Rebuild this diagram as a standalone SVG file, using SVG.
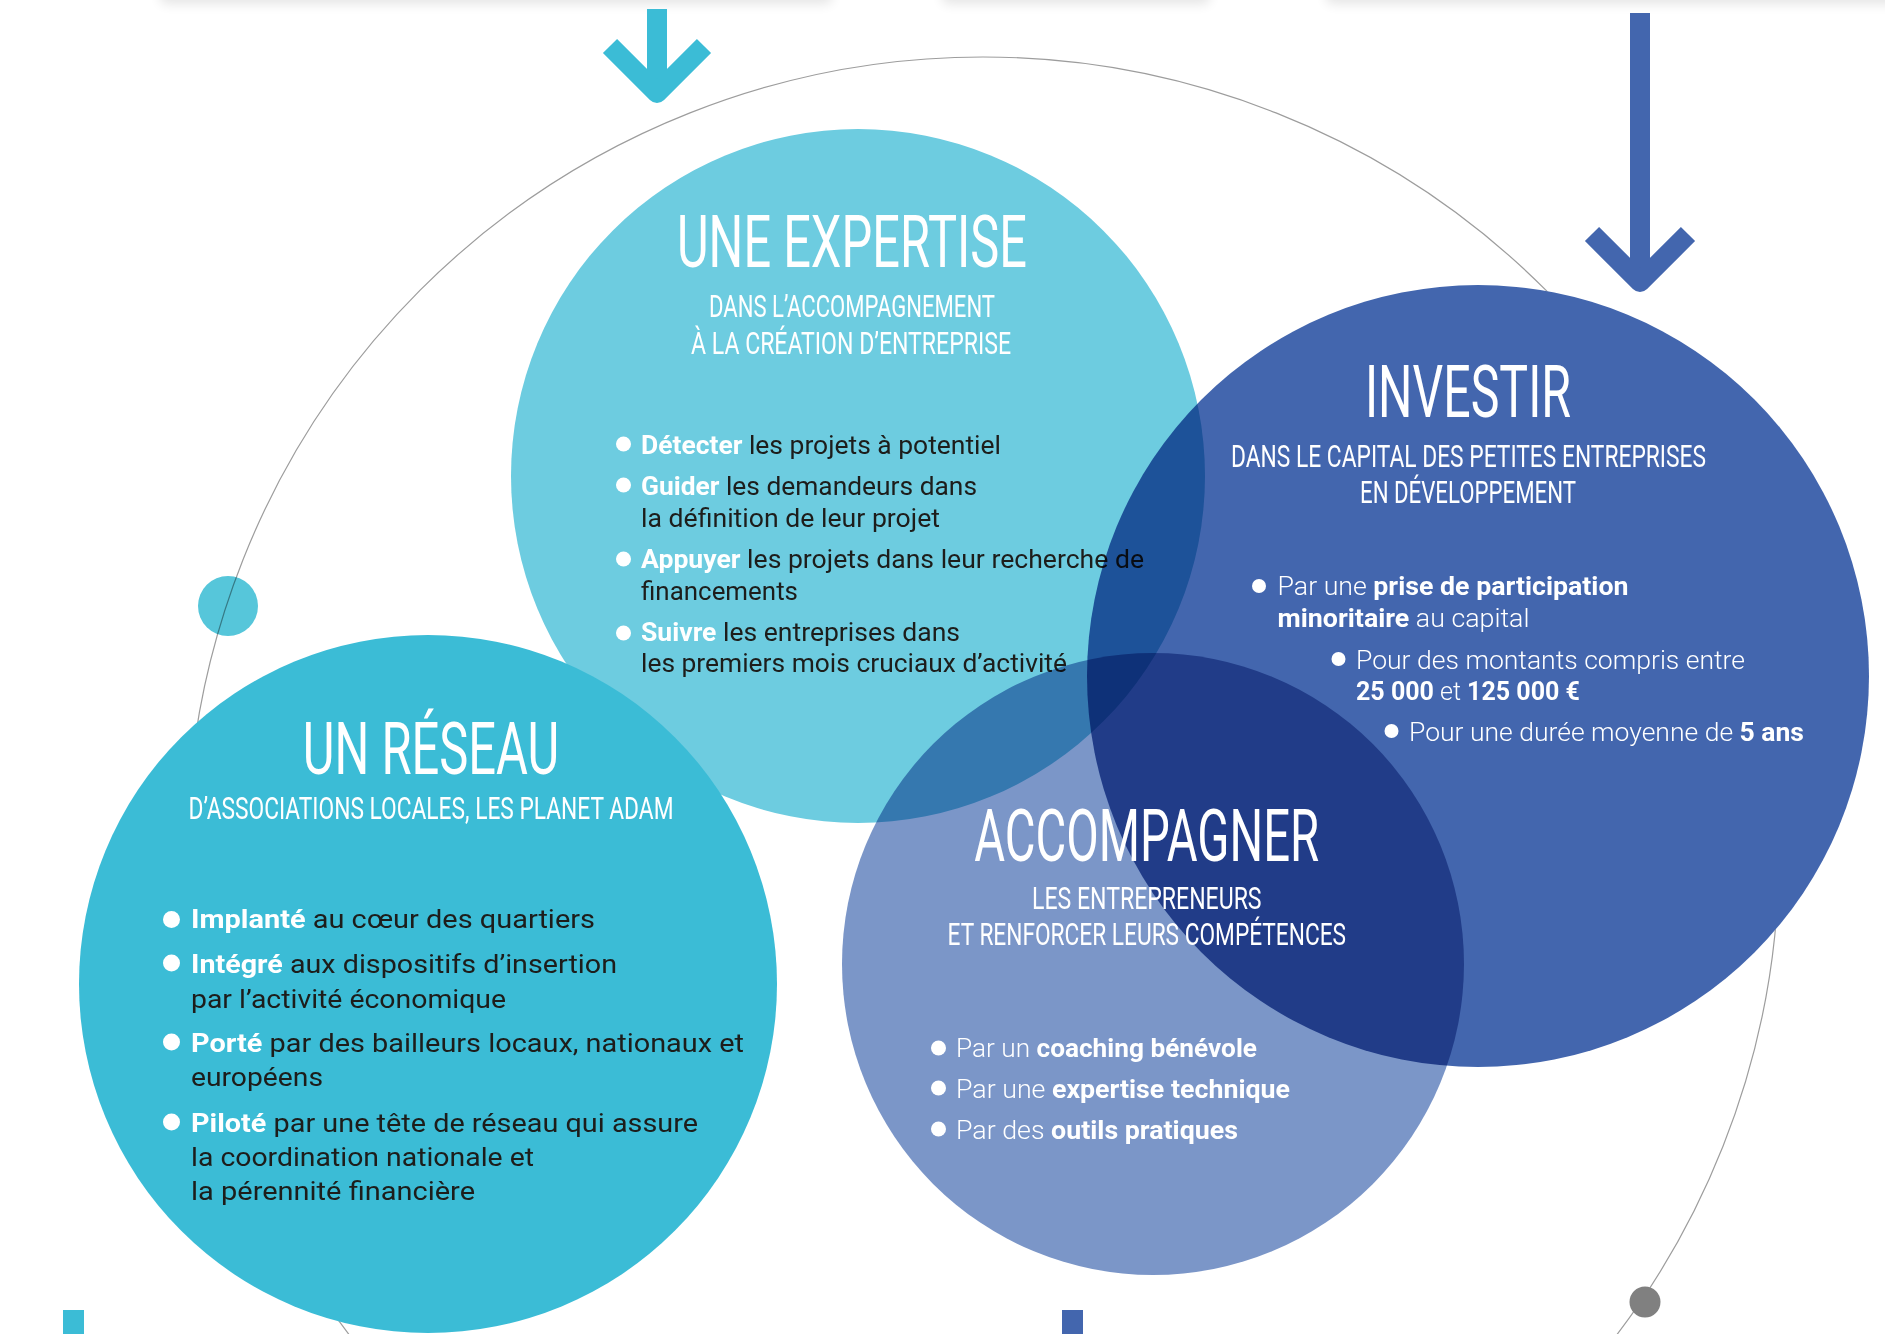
<svg xmlns="http://www.w3.org/2000/svg" width="1885" height="1334" viewBox="0 0 1885 1334">
<defs>
<filter id="shadow" x="-10%" y="-200%" width="120%" height="500%"><feGaussianBlur stdDeviation="6"/></filter>
</defs>
<style>
text{font-family:Roboto,"Liberation Sans",Arial,sans-serif;}
.title{font-size:72px;fill:#fff;font-weight:400;}
.sub{font-size:31px;fill:#fff;font-weight:400;}
.body{font-size:25px;}
.dark{fill:#1d1d1b;}
.light{fill:#fff;font-weight:300;}
.b{font-weight:700;fill:#fff;}
.dot{fill:#fff;}
.mult{mix-blend-mode:multiply;}
</style>
<rect width="1885" height="1334" fill="#fff"/>
<g id="background" opacity="0.10">
<rect x="160" y="-34" width="672" height="38" rx="6" fill="#000" filter="url(#shadow)"/>
<rect x="942" y="-34" width="268" height="38" rx="6" fill="#000" filter="url(#shadow)"/>
<rect x="1326" y="-34" width="580" height="38" rx="6" fill="#000" filter="url(#shadow)"/>
</g>
<circle id="ring" cx="983" cy="853" r="796" fill="none" stroke="#9d9d9d" stroke-width="1.2"/>
<circle cx="1478" cy="676" r="391" fill="#fff"/>

<g id="node-expertise">
<circle cx="858" cy="476" r="347" fill="#6dcce0"/>
<text class="title" x="852" y="267" text-anchor="middle" textLength="350" lengthAdjust="spacingAndGlyphs">UNE EXPERTISE</text>
<text class="sub" x="852" y="317" text-anchor="middle" textLength="286" lengthAdjust="spacingAndGlyphs">DANS L’ACCOMPAGNEMENT</text>
<text class="sub" x="851" y="354" text-anchor="middle" textLength="320" lengthAdjust="spacingAndGlyphs">À LA CRÉATION D’ENTREPRISE</text>
<g class="body dark" transform="translate(0,2)">
<circle class="dot" cx="623.5" cy="442" r="7.5"/>
<circle class="dot" cx="623.5" cy="483" r="7.5"/>
<circle class="dot" cx="623.5" cy="557" r="7.5"/>
<circle class="dot" cx="623.5" cy="631" r="7.5"/>
<text x="641" y="452" textLength="360" lengthAdjust="spacingAndGlyphs"><tspan class="b">Détecter</tspan> les projets à potentiel</text>
<text x="641" y="493" textLength="336" lengthAdjust="spacingAndGlyphs"><tspan class="b">Guider</tspan> les demandeurs dans</text>
<text x="641" y="525" textLength="299" lengthAdjust="spacingAndGlyphs">la définition de leur projet</text>
<text x="641" y="566" textLength="503" lengthAdjust="spacingAndGlyphs"><tspan class="b">Appuyer</tspan> les projets dans leur recherche de</text>
<text x="641" y="598" textLength="157" lengthAdjust="spacingAndGlyphs">financements</text>
<text x="641" y="639" textLength="319" lengthAdjust="spacingAndGlyphs"><tspan class="b">Suivre</tspan> les entreprises dans</text>
<text x="641" y="670" textLength="426" lengthAdjust="spacingAndGlyphs">les premiers mois cruciaux d’activité</text>
</g>
</g>

<g id="node-investir">
<circle class="mult" cx="1478" cy="676" r="391" fill="#4366ae"/>
<text class="title" x="1468" y="417" text-anchor="middle" textLength="206" lengthAdjust="spacingAndGlyphs">INVESTIR</text>
<text class="sub" x="1468.5" y="467" text-anchor="middle" textLength="475" lengthAdjust="spacingAndGlyphs">DANS LE CAPITAL DES PETITES ENTREPRISES</text>
<text class="sub" x="1468" y="503" text-anchor="middle" textLength="216" lengthAdjust="spacingAndGlyphs">EN DÉVELOPPEMENT</text>
<g class="body light" font-size="24" transform="translate(0,2)">
<circle class="dot" cx="1259" cy="584" r="7"/>
<circle class="dot" cx="1338.5" cy="657" r="7"/>
<circle class="dot" cx="1391.5" cy="729" r="7"/>
<text x="1277.5" y="593" textLength="351" lengthAdjust="spacingAndGlyphs">Par une <tspan class="b">prise de participation</tspan></text>
<text x="1277.5" y="625" textLength="252" lengthAdjust="spacingAndGlyphs"><tspan class="b">minoritaire</tspan> au capital</text>
<text x="1356" y="667" textLength="389" lengthAdjust="spacingAndGlyphs">Pour des montants compris entre</text>
<text x="1356" y="698" textLength="224" lengthAdjust="spacingAndGlyphs"><tspan class="b">25 000</tspan> et <tspan class="b">125 000 €</tspan></text>
<text x="1409" y="739" textLength="395" lengthAdjust="spacingAndGlyphs">Pour une durée moyenne de <tspan class="b">5 ans</tspan></text>
</g>
</g>

<g id="node-accompagner">
<circle class="mult" cx="1153" cy="964" r="311" fill="#7b96c8"/>
<text class="title" x="1146.7" y="861" text-anchor="middle" textLength="345" lengthAdjust="spacingAndGlyphs">ACCOMPAGNER</text>
<text class="sub" x="1146.8" y="909" text-anchor="middle" textLength="229.5" lengthAdjust="spacingAndGlyphs">LES ENTREPRENEURS</text>
<text class="sub" x="1146.8" y="945" text-anchor="middle" textLength="398.5" lengthAdjust="spacingAndGlyphs">ET RENFORCER LEURS COMPÉTENCES</text>
<g class="body light" font-size="24" transform="translate(0,2)">
<circle class="dot" cx="938.5" cy="1046" r="7.5"/>
<circle class="dot" cx="938.5" cy="1086" r="7.5"/>
<circle class="dot" cx="938.5" cy="1127" r="7.5"/>
<text x="956" y="1055" textLength="301" lengthAdjust="spacingAndGlyphs">Par un <tspan class="b">coaching bénévole</tspan></text>
<text x="956" y="1096" textLength="334" lengthAdjust="spacingAndGlyphs">Par une <tspan class="b">expertise technique</tspan></text>
<text x="956" y="1137" textLength="282" lengthAdjust="spacingAndGlyphs">Par des <tspan class="b">outils pratiques</tspan></text>
</g>
</g>

<g id="node-reseau">
<circle cx="428" cy="984" r="349" fill="#3bbcd6"/>
<text class="title" x="431" y="774" text-anchor="middle" font-size="70" textLength="256.5" lengthAdjust="spacingAndGlyphs">UN RÉSEAU</text>
<text class="sub" x="431" y="819" text-anchor="middle" textLength="485" lengthAdjust="spacingAndGlyphs">D’ASSOCIATIONS LOCALES, LES PLANET ADAM</text>
<g class="body dark" font-size="26" transform="translate(0,2)">
<circle class="dot" cx="171.5" cy="917.5" r="8.5"/>
<circle class="dot" cx="171.5" cy="961" r="8.5"/>
<circle class="dot" cx="171.5" cy="1040" r="8.5"/>
<circle class="dot" cx="171.5" cy="1120" r="8.5"/>
<text x="191" y="926" textLength="404" lengthAdjust="spacingAndGlyphs"><tspan class="b">Implanté</tspan> au cœur des quartiers</text>
<text x="191" y="971" textLength="426" lengthAdjust="spacingAndGlyphs"><tspan class="b">Intégré</tspan> aux dispositifs d’insertion</text>
<text x="191" y="1005.7" textLength="315" lengthAdjust="spacingAndGlyphs">par l’activité économique</text>
<text x="191" y="1050" textLength="553" lengthAdjust="spacingAndGlyphs"><tspan class="b">Porté</tspan> par des bailleurs locaux, nationaux et</text>
<text x="191" y="1084" textLength="132" lengthAdjust="spacingAndGlyphs">européens</text>
<text x="191" y="1130" textLength="507" lengthAdjust="spacingAndGlyphs"><tspan class="b">Piloté</tspan> par une tête de réseau qui assure</text>
<text x="191" y="1164" textLength="343" lengthAdjust="spacingAndGlyphs">la coordination nationale et</text>
<text x="191" y="1198" textLength="284" lengthAdjust="spacingAndGlyphs">la pérennité financière</text>
</g>
</g>

<g id="decorations">
<circle class="mult" cx="228" cy="606" r="30" fill="#56c6da"/>
<circle cx="1645" cy="1302" r="15.5" fill="#808080"/>
<rect x="63" y="1310" width="21" height="24" fill="#3bbcd6"/>
<rect x="1062" y="1310" width="21" height="24" fill="#4366ae"/>
</g>

<g id="connectors" fill="none" stroke-width="20" stroke-linejoin="round">
<g stroke="#3bbcd6">
<line x1="657" y1="9" x2="657" y2="93"/>
<polyline points="610,46 657,93 704,46"/>
</g>
<g stroke="#4366ae">
<line x1="1640" y1="13" x2="1640" y2="282"/>
<polyline points="1592,234 1640,282 1688,234"/>
</g>
</g>
</svg>
